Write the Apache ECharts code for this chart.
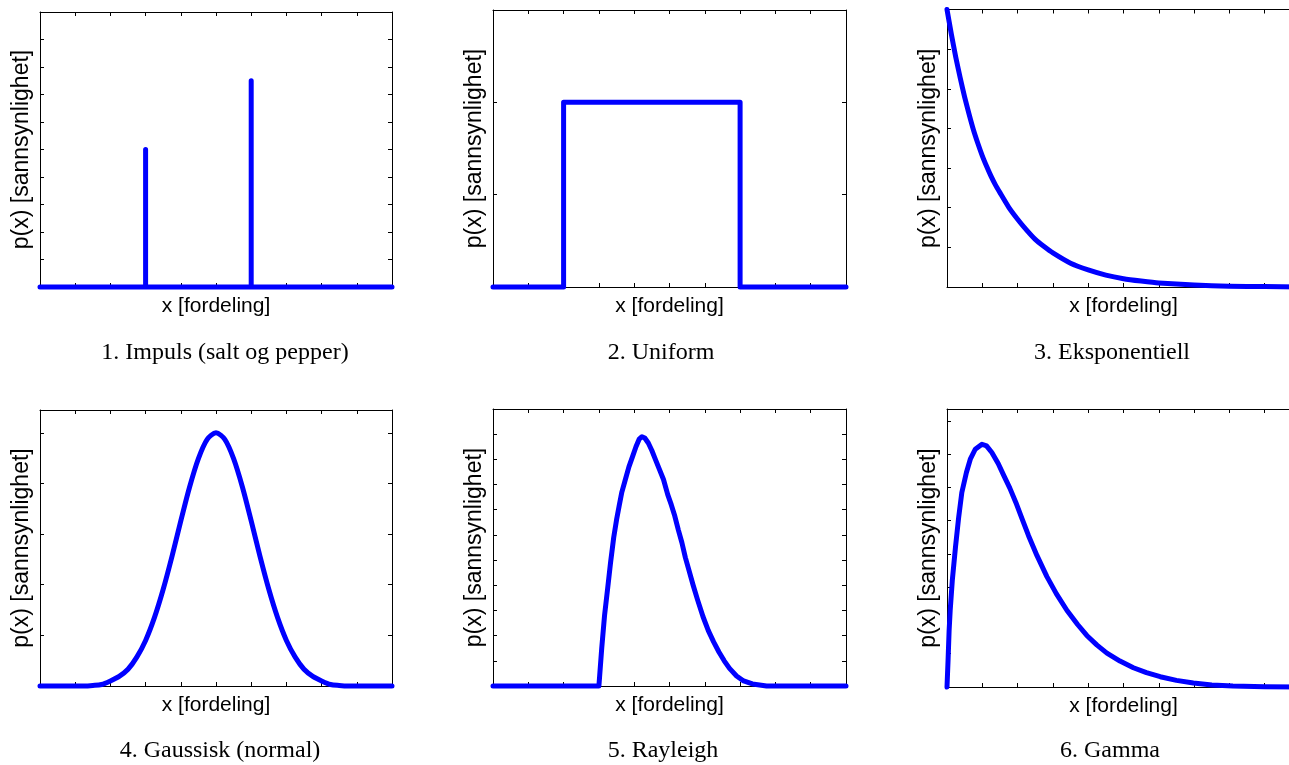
<!DOCTYPE html>
<html>
<head>
<meta charset="utf-8">
<script src="https://cdn.jsdelivr.net/npm/echarts@6/dist/echarts.min.js"></script>
<style>
html,body{margin:0;padding:0;background:#fff;overflow:hidden;}
#wrap{width:1289px;height:765px;overflow:hidden;position:relative;}
#c{width:1310px;height:765px;}
</style>
</head>
<body>
<div id="wrap"><div id="c"></div></div>
<script>
// ---- data ----
const titles = ['1. Impuls (salt og pepper)', '2. Uniform', '3. Eksponentiell',
                '4. Gaussisk (normal)', '5. Rayleigh', '6. Gamma'];
const xLabel = 'x [fordeling]';
const yLabel = 'p(x) [sannsynlighet]';

const impulseX = [0, 3, 3, 3, 6, 6, 6, 10];
const impulseY = [0, 0, 5, 0, 0, 7.5, 0, 0];

const uniformX = [0, 2, 2, 7, 7, 10];
const uniformY = [0, 0, 1, 1, 0, 0];

const expX = [0, 0.125, 0.25, 0.375, 0.5, 0.625, 0.75, 0.875, 1, 1.125, 1.25, 1.375, 1.5, 1.75, 2, 2.25, 2.5, 2.75, 3, 3.5, 4, 4.5, 5, 5.5, 6, 7, 8, 9, 10];
const expY = [7.0, 6.37, 5.79, 5.27, 4.79, 4.36, 3.96, 3.62, 3.31, 3.04, 2.79, 2.57, 2.38, 2.01, 1.71, 1.44, 1.20, 1.02, 0.86, 0.60, 0.43, 0.30, 0.21, 0.15, 0.10, 0.05, 0.02, 0.01, 0];

const gaussX = [0, 1, 1.25, 1.5, 1.75, 2, 2.25, 2.5, 2.75, 3, 3.25, 3.5, 3.75, 4, 4.25, 4.5, 4.75, 5,
                5.25, 5.5, 5.75, 6, 6.25, 6.5, 6.75, 7, 7.25, 7.5, 7.75, 8, 8.25, 8.5, 8.75, 9, 10];
const gaussY = [0, 0, 0, 0.01, 0.03, 0.10, 0.19, 0.33, 0.57, 0.90, 1.35, 1.91, 2.56, 3.26, 3.93, 4.49, 4.87, 5.0,
                4.87, 4.49, 3.93, 3.26, 2.56, 1.91, 1.35, 0.90, 0.57, 0.33, 0.19, 0.10, 0.03, 0.01, 0, 0, 0];

const rayX = [0, 3, 3.08, 3.16, 3.25, 3.33, 3.42, 3.5, 3.58, 3.65, 3.75, 3.85, 3.95, 4.05, 4.14, 4.22, 4.3, 4.4,
              4.5, 4.6, 4.7, 4.83, 4.95, 5.05, 5.15, 5.25, 5.35, 5.45, 5.55, 5.67, 5.8, 5.95, 6.1, 6.25,
              6.4, 6.55, 6.7, 6.9, 7.1, 7.35, 7.75, 10];
const rayY = [0, 0, 1.5, 2.8, 3.9, 4.9, 5.9, 6.6, 7.2, 7.7, 8.2, 8.7, 9.1, 9.5, 9.8, 9.9, 9.85, 9.65,
              9.35, 9.0, 8.65, 8.2, 7.6, 7.2, 6.75, 6.2, 5.7, 5.1, 4.6, 4.0, 3.4, 2.75, 2.2, 1.75,
              1.35, 1.0, 0.7, 0.4, 0.2, 0.08, 0, 0];

const gammaX = [0, 0.03, 0.06, 0.09, 0.15, 0.24, 0.33, 0.42, 0.55, 0.66, 0.8, 0.99, 1.12, 1.27, 1.45, 1.6, 1.78, 1.95,
                2.13, 2.31, 2.55, 2.83, 3.1, 3.4, 3.7, 3.96, 4.25, 4.53, 4.9, 5.28, 5.65, 6.04, 6.5, 6.98, 7.5, 8.1, 9, 10];
const gammaY = [0, 0.8, 1.7, 2.3, 3.2, 4.2, 5.1, 5.85, 6.45, 6.85, 7.15, 7.3, 7.25, 7.05, 6.72, 6.38, 5.98, 5.55,
                5.05, 4.55, 3.95, 3.32, 2.8, 2.3, 1.88, 1.55, 1.26, 1.02, 0.78, 0.58, 0.43, 0.31, 0.2, 0.12, 0.06, 0.03, 0.01, 0];

const xMax = [10, 10, 10, 10, 10, 10];
const yMax = [10, 1.5, 7, 5.45, 11, 8.36];
const yInterval = [1, 0.5, 1, 1, 1, 1];

const seriesX = [impulseX, uniformX, expX, gaussX, rayX, gammaX];
const seriesY = [impulseY, uniformY, expY, gaussY, rayY, gammaY];

// ---- layout ----
const rects = [
  {left: 40,  top: 12,  width: 352, height: 275},
  {left: 493, top: 10,  width: 353, height: 277},
  {left: 947, top: 9.5, width: 353, height: 277.5},
  {left: 40,  top: 410, width: 352, height: 276},
  {left: 493, top: 409, width: 353, height: 277},
  {left: 947, top: 409, width: 353, height: 278}
];
const smoothness = [false, false, 0.15, 0.3, false, false];
const titlePos = [[225, 353], [661, 353], [1112, 353], [220, 751], [663, 751], [1110, 751]];

const grid = [], xAxis = [], yAxis = [], series = [], graphic = [];
const tickStyle = {show: true, inside: true, length: 4, lineStyle: {color: '#000', width: 1}};
const lineSt = {show: true, onZero: false, lineStyle: {color: '#000', width: 1}};

for (let i = 0; i < 6; i++) {
  grid.push(Object.assign({containLabel: false, outerBoundsMode: 'none'}, rects[i]));
  const xBase = {type: 'value', gridIndex: i, min: 0, max: xMax[i], interval: 1,
    axisLine: lineSt, axisTick: tickStyle, axisLabel: {show: false}, splitLine: {show: false}};
  const yBase = {type: 'value', gridIndex: i, min: 0, max: yMax[i], interval: yInterval[i],
    axisLine: lineSt, axisTick: tickStyle, axisLabel: {show: false}, splitLine: {show: false}};
  xAxis.push(Object.assign({}, xBase, {position: 'bottom', name: xLabel, nameLocation: 'middle', nameGap: 9,
    nameTextStyle: {fontFamily: 'Liberation Sans, Arial', fontSize: 21, color: '#000'}}));
  xAxis.push(Object.assign({}, xBase, {position: 'top'}));
  yAxis.push(Object.assign({}, yBase, {position: 'left', name: yLabel, nameLocation: 'middle', nameGap: 7,
    nameTextStyle: {fontFamily: 'Liberation Sans, Arial', fontSize: 23, color: '#000'}}));
  yAxis.push(Object.assign({}, yBase, {position: 'right'}));
  const pts = seriesX[i].map((x, k) => [x, seriesY[i][k]]);
  series.push({type: 'line', xAxisIndex: 2 * i, yAxisIndex: 2 * i, data: pts, showSymbol: false,
    symbol: 'none', smooth: smoothness[i], clip: false, animation: false,
    lineStyle: {color: '#0000ff', width: 5, cap: 'round', join: 'round'}});
  graphic.push({type: 'text', x: titlePos[i][0], y: titlePos[i][1],
    style: {text: titles[i], fill: '#000', font: '24px "Liberation Serif", "Times New Roman", serif',
      textAlign: 'center', textVerticalAlign: 'middle'}});
}

const chart = echarts.init(document.getElementById('c'), null, {renderer: 'canvas'});
chart.setOption({animation: false, backgroundColor: '#fff', grid, xAxis, yAxis, series, graphic});
</script>
</body>
</html>
